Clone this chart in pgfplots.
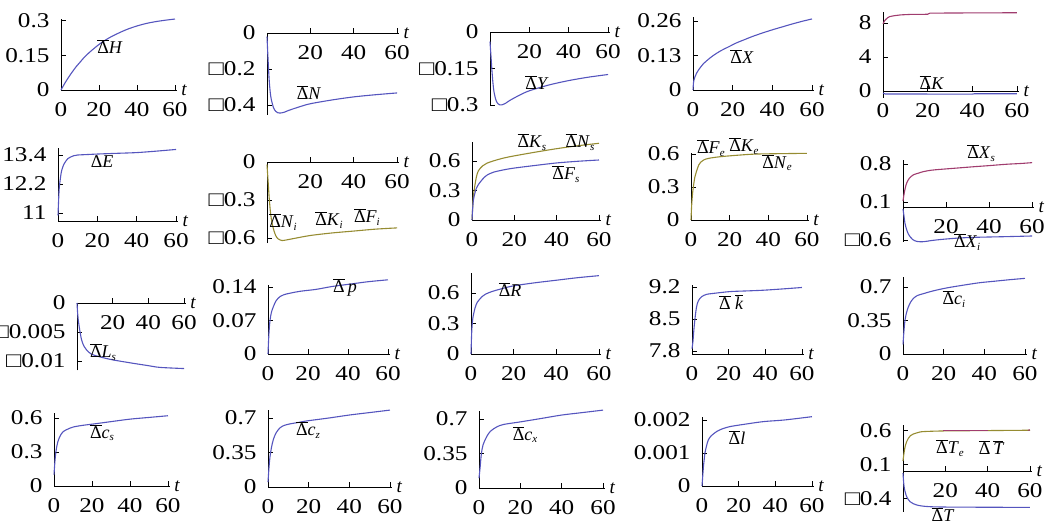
\documentclass[border=0pt]{standalone}
\usepackage{fontspec}
\setmainfont{Liberation Serif}
\newfontfamily\tickfam{Liberation Serif}[FakeStretch=1.2]
\usepackage{pgfplots}
\pgfplotsset{compat=1.18}
\definecolor{cblue}{RGB}{85,85,190}
\definecolor{cmag}{RGB}{160,60,110}
\definecolor{colive}{RGB}{150,140,50}
\newcommand\tickfont{\tickfam\fontsize{21}{22}\selectfont}
\newcommand\tfont{\fontsize{19}{20}\selectfont\itshape}
\newcommand\labfont{\fontsize{18}{19}\selectfont}
\newcommand\sub[1]{\raisebox{-0.3ex}{\fontsize{11}{11}\selectfont\itshape #1}}
\newcommand\bD{$\overline{\mbox{Δ}}$}
\newcommand\ob[1]{$\overline{\mbox{\itshape #1}}$}
\newcommand\mi{□}
\tikzset{lab/.style={font=\labfont, inner sep=0pt}}
\pgfplotsset{
  P/.style={anchor=south west, scale only axis, xmin=0, xmax=61, clip=false,
    hide obscured x ticks=false, hide obscured y ticks=false,
    scaled x ticks=false, scaled y ticks=false, xlabel={t}},
  AX/.style={axis line style={-, line width=0.8pt, black}, x axis line style={-}, y axis line style={-},
    every inner x axis line/.append style={-}, every inner y axis line/.append style={-},
    every outer x axis line/.append style={-}, every outer y axis line/.append style={-},
    tick align=inside, major tick length=5pt, tick style={black, line width=0.6pt},
    tick label style={font=\tickfont},
    x tick label style={yshift=-9pt},
    y tick label style={xshift=-8pt},
    every axis x label/.style={at={(ticklabel* cs:1)}, anchor=west, font=\tfont, xshift=1pt}},
  M/.style={P, axis lines=middle, AX},
  B/.style={P, axis x line=bottom, axis y line=left, AX},
  cb/.style={no marks, smooth, line width=1.1pt, color=cblue},
  cm/.style={no marks, smooth, line width=1.1pt, color=cmag},
  co/.style={no marks, smooth, line width=1.1pt, color=colive},
}
\begin{document}
\begin{tikzpicture}
\path[use as bounding box] (0,0) rectangle (1046pt,522pt);
% ---------- Row 1 ----------
\begin{axis}[M, at={(61pt,432pt)}, width=115.9pt, height=70.5pt, ymin=0, ymax=0.305,
  xtick={0,20,40,60}, xticklabels={0,20,40,60}, ytick={0,0.15,0.3}, yticklabels={0,0.15,0.3}]
\addplot[cb] coordinates {(0,0) (2,0.029) (4,0.055) (6,0.079) (8,0.101) (10,0.12) (12,0.139) (15,0.163) (20,0.197) (25,0.224) (30,0.245) (35,0.263) (40,0.277) (45,0.288) (50,0.296) (55,0.302) (60,0.307)};
\node[lab] at (axis cs:25.8,0.19) {\bD\textit{H}};
\end{axis}
\begin{axis}[M, at={(267pt,407.1pt)}, width=132.2pt, height=81.9pt, ymin=-0.455, ymax=0,
  xtick={20,40,60}, xticklabels={20,40,60}, ytick={0,-0.2,-0.4}, yticklabels={0,\mi0.2,\mi0.4}]
\addplot[cb] coordinates {(0,-0.02) (0.5,-0.15) (1,-0.26) (1.5,-0.33) (2,-0.37) (3,-0.415) (4,-0.435) (5,-0.443) (6,-0.445) (8,-0.44) (10,-0.43) (15,-0.41) (20,-0.393) (30,-0.372) (40,-0.355) (50,-0.343) (60,-0.333)};
\node[lab] at (axis cs:19.4,-0.333) {\bD\textit{N}};
\end{axis}
\begin{axis}[M, at={(490pt,415.9pt)}, width=120pt, height=74.1pt, ymin=-0.305, ymax=0,
  xtick={20,40,60}, xticklabels={20,40,60}, ytick={0,-0.15,-0.3}, yticklabels={0,\mi0.15,\mi0.3}]
\addplot[cb] coordinates {(0,-0.04) (0.5,-0.1) (1,-0.16) (1.5,-0.21) (2,-0.245) (3,-0.28) (4,-0.295) (5,-0.3) (6,-0.3) (8,-0.293) (10,-0.282) (15,-0.26) (20,-0.242) (30,-0.218) (40,-0.2) (50,-0.186) (60,-0.175)};
\node[lab] at (axis cs:23.9,-0.21) {\bD\textit{Y}};
\end{axis}
\begin{axis}[M, at={(693pt,432pt)}, width=121pt, height=72.9pt, ymin=0, ymax=0.275,
  xtick={0,20,40,60}, xticklabels={0,20,40,60}, ytick={0,0.13,0.26}, yticklabels={0,0.13,0.26}]
\addplot[cb] coordinates {(0,0) (0.25,0.028) (0.5,0.038) (1,0.05) (2,0.066) (3,0.078) (5,0.097) (7,0.111) (10,0.129) (14,0.148) (18,0.163) (22,0.178) (26,0.19) (30,0.202) (35,0.215) (40,0.227) (45,0.238) (50,0.249) (55,0.259) (60,0.268)};
\node[lab] at (axis cs:24.7,0.125) {\bD\textit{X}};
\end{axis}
\begin{axis}[M, at={(883pt,424.2pt)}, width=136.2pt, height=85.9pt, ymin=-0.8, ymax=9.3,
  xtick={0,20,40,60}, xticklabels={0,20,40,60}, ytick={0,4,8}, yticklabels={0,4,8}]
\addplot[cm, sharp plot] coordinates {(0,7.9) (0.5,8.15) (1,8.35) (2,8.6) (3,8.75) (5,8.85) (8,8.95) (12,9.0) (20,9.02) (21,9.15) (30,9.17) (60,9.2)};
\addplot[cb, sharp plot] coordinates {(0,-0.25) (1,-0.35) (40,-0.37) (41,-0.32) (60,-0.32)};
\node[lab] at (axis cs:21.9,0.94) {\bD\textit{K}};
\end{axis}
% ---------- Row 2 ----------
\begin{axis}[B, at={(58pt,301pt)}, width=120pt, height=73pt, ymin=10.67, ymax=13.69,
  xtick={0,20,40,60}, xticklabels={0,20,40,60}, ytick={11,12.2,13.4}, yticklabels={11,12.2,13.4}]
\addplot[cb] coordinates {(0,10.9) (0.3,11.5) (0.6,12.0) (1,12.3) (1.5,12.6) (2,12.8) (3,13.02) (4,13.15) (5,13.25) (6,13.3) (8,13.37) (10,13.4) (15,13.42) (20,13.44) (30,13.47) (40,13.5) (50,13.56) (60,13.63)};
\node[lab] at (axis cs:22.4,13.11) {Δ\textit{E}};
\end{axis}
\begin{axis}[M, at={(267pt,278.9pt)}, width=132.2pt, height=81.1pt, ymin=-0.64, ymax=0,
  xtick={20,40,60}, xticklabels={20,40,60}, ytick={0,-0.3,-0.6}, yticklabels={0,\mi0.3,\mi0.6}]
\addplot[co] coordinates {(0,-0.02) (0.5,-0.15) (1,-0.28) (1.5,-0.38) (2,-0.45) (3,-0.53) (4,-0.58) (5,-0.605) (6,-0.615) (7,-0.62) (9,-0.615) (12,-0.605) (20,-0.58) (30,-0.56) (40,-0.545) (50,-0.53) (60,-0.52)};
\node[lab] at (axis cs:7.4,-0.474) {\bD\textit{N}\sub{i}};
\node[lab] at (axis cs:28.6,-0.458) {\bD\textit{K}\sub{i}};
\node[lab] at (axis cs:46.1,-0.434) {\bD\textit{F}\sub{i}};
\end{axis}
\begin{axis}[M, at={(472pt,302pt)}, width=129.1pt, height=77.7pt, ymin=0, ymax=0.79,
  xtick={0,20,40,60}, xticklabels={0,20,40,60}, ytick={0,0.3,0.6}, yticklabels={0,0.3,0.6}]
\addplot[co] coordinates {(0,0) (0.5,0.2) (1,0.3) (2,0.43) (3,0.5) (5,0.55) (7,0.577) (10,0.6) (15,0.63) (20,0.652) (30,0.69) (40,0.725) (50,0.755) (60,0.78)};
\addplot[cb] coordinates {(0,0) (0.5,0.17) (1,0.24) (2,0.32) (3,0.36) (5,0.415) (7,0.455) (10,0.485) (15,0.51) (20,0.528) (30,0.555) (40,0.58) (50,0.597) (60,0.61)};
\node[lab] at (axis cs:28.3,0.79) {\bD\textit{K}\sub{s}};
\node[lab] at (axis cs:51,0.79) {\bD\textit{N}\sub{s}};
\node[lab] at (axis cs:44.4,0.468) {\bD\textit{F}\sub{s}};
\end{axis}
\begin{axis}[M, at={(691pt,302pt)}, width=117.9pt, height=67.1pt, ymin=0, ymax=0.61,
  xtick={0,20,40,60}, xticklabels={0,20,40,60}, ytick={0,0.3,0.6}, yticklabels={0,0.3,0.6}]
\addplot[co] coordinates {(0,0) (0.3,0.12) (0.7,0.22) (1.2,0.3) (2,0.39) (3,0.45) (4,0.5) (5,0.525) (6.5,0.545) (9,0.56) (15,0.575) (25,0.59) (35,0.6) (60,0.606)};
\node[lab] at (axis cs:10.3,0.655) {\bD\textit{F}\sub{e}};
\node[lab] at (axis cs:27.4,0.67) {\bD\textit{K}\sub{e}};
\node[lab] at (axis cs:44.5,0.52) {\bD\textit{N}\sub{e}};
\end{axis}
\begin{axis}[M, at={(903pt,280.3pt)}, width=131.2pt, height=81.5pt, ymin=-0.63, ymax=0.87,
  xtick={20,40,60}, xticklabels={20,40,60}, ytick={-0.6,0.1,0.8}, yticklabels={\mi0.6,0.1,0.8}]
\addplot[cm] coordinates {(0,0.12) (0.5,0.25) (1,0.35) (1.7,0.45) (3,0.54) (4.8,0.6) (7,0.63) (9.5,0.66) (13,0.685) (17,0.7) (25,0.725) (33,0.75) (40,0.77) (48,0.795) (55,0.81) (60,0.825)};
\addplot[cb] coordinates {(0,-0.03) (0.5,-0.17) (0.9,-0.29) (1.7,-0.41) (2.5,-0.49) (3.3,-0.54) (4.5,-0.59) (6.4,-0.625) (9.5,-0.63) (13,-0.61) (17.4,-0.59) (25,-0.565) (33,-0.55) (48,-0.537) (60,-0.525)};
\node[lab] at (axis cs:36.3,1.0) {\bD\textit{X}\sub{s}};
\node[lab] at (axis cs:29.8,-0.635) {\bD\textit{X}\sub{i}};
\end{axis}
% ---------- Row 3 ----------
\begin{axis}[M, at={(77pt,151.7pt)}, width=108.8pt, height=67.3pt, ymin=-0.0116, ymax=0,
  xtick={20,40,60}, xticklabels={20,40,60}, ytick={0,-0.005,-0.01}, yticklabels={0,\mi0.005,\mi0.01}]
\addplot[cb] coordinates {(0,0) (0.3,-0.0015) (0.7,-0.0029) (1.5,-0.0046) (2.6,-0.0064) (4,-0.0075) (5.4,-0.0081) (8,-0.0088) (13,-0.0093) (20,-0.0098) (31.6,-0.0104) (40,-0.0108) (46.5,-0.0111) (60,-0.0113)};
\node[lab] at (axis cs:14.6,-0.00845) {\bD\textit{L}\sub{s}};
\end{axis}
\begin{axis}[M, at={(268pt,168pt)}, width=122pt, height=69.4pt, ymin=0, ymax=0.145,
  xtick={0,20,40,60}, xticklabels={0,20,40,60}, ytick={0,0.07,0.14}, yticklabels={0,0.07,0.14}]
\addplot[cb] coordinates {(0,0) (0.2,0.02) (0.5,0.045) (1,0.07) (1.7,0.087) (2.7,0.099) (4,0.111) (6,0.12) (8,0.124) (11,0.127) (16,0.131) (24,0.135) (32,0.141) (41,0.146) (50,0.151) (60,0.155)};
\node[lab] at (axis cs:38.5,0.14) {\bD\,\textit{p}};
\end{axis}
\begin{axis}[M, at={(471pt,168pt)}, width=130.1pt, height=81.4pt, ymin=0, ymax=0.8,
  xtick={0,20,40,60}, xticklabels={0,20,40,60}, ytick={0,0.3,0.6}, yticklabels={0,0.3,0.6}]
\addplot[cb] coordinates {(0,0) (0.3,0.2) (0.6,0.3) (1,0.37) (2,0.46) (3,0.51) (5,0.56) (7,0.59) (10,0.615) (15,0.645) (20,0.67) (30,0.7) (40,0.725) (50,0.75) (60,0.77)};
\node[lab] at (axis cs:18.3,0.63) {\bD\textit{R}};
\end{axis}
\begin{axis}[B, at={(692pt,168pt)}, width=111.8pt, height=68.8pt, ymin=7.734, ymax=9.24,
  xtick={0,20,40,60}, xticklabels={0,20,40,60}, ytick={7.8,8.5,9.2}, yticklabels={7.8,8.5,9.2}]
\addplot[cb] coordinates {(0,7.85) (0.5,8.0) (1,8.25) (1.6,8.5) (2.5,8.77) (3.5,8.9) (5.3,8.99) (8,9.04) (11.6,9.06) (20.7,9.1) (30,9.115) (38.9,9.13) (50,9.16) (60,9.19)};
\node[lab] at (axis cs:21.3,8.87) {\bD\ \ob{k}};
\end{axis}
\begin{axis}[M, at={(903pt,168pt)}, width=124pt, height=76.6pt, ymin=0, ymax=0.8,
  xtick={0,20,40,60}, xticklabels={0,20,40,60}, ytick={0,0.35,0.7}, yticklabels={0,0.35,0.7}]
\addplot[cb] coordinates {(0,0.1) (0.5,0.25) (1,0.355) (1.7,0.43) (2.6,0.49) (3.7,0.54) (5.1,0.58) (7,0.61) (10,0.63) (15,0.66) (21.5,0.69) (30,0.72) (37.9,0.745) (45,0.76) (52,0.775) (60,0.79)};
\node[lab] at (axis cs:25,0.575) {\bD\textit{c}\sub{i}};
\end{axis}
% ---------- Row 4 ----------
\begin{axis}[M, at={(54pt,36pt)}, width=115.9pt, height=73.1pt, ymin=0, ymax=0.645,
  xtick={0,20,40,60}, xticklabels={0,20,40,60}, ytick={0,0.3,0.6}, yticklabels={0,0.3,0.6}]
\addplot[cb] coordinates {(0,0.1) (0.5,0.22) (1,0.3) (1.6,0.36) (2.3,0.405) (3.5,0.45) (4.9,0.48) (7,0.5) (10,0.52) (15,0.535) (20.7,0.547) (30,0.568) (40,0.59) (50,0.605) (60,0.62)};
\node[lab] at (axis cs:25.3,0.47) {\bD\textit{c}\sub{s}};
\end{axis}
\begin{axis}[M, at={(268pt,35pt)}, width=124pt, height=76.9pt, ymin=0, ymax=0.78,
  xtick={0,20,40,60}, xticklabels={0,20,40,60}, ytick={0,0.35,0.7}, yticklabels={0,0.35,0.7}]
\addplot[cb] coordinates {(0,0.05) (0.5,0.2) (1,0.31) (1.7,0.4) (2.6,0.48) (4,0.55) (5.9,0.6) (8,0.625) (10.8,0.64) (15,0.655) (19,0.67) (30,0.7) (40,0.73) (50,0.755) (60,0.78)};
\node[lab] at (axis cs:19.7,0.578) {\bD\textit{c}\sub{z}};
\end{axis}
\begin{axis}[M, at={(479pt,34pt)}, width=126.1pt, height=76.9pt, ymin=0, ymax=0.78,
  xtick={0,20,40,60}, xticklabels={0,20,40,60}, ytick={0,0.35,0.7}, yticklabels={0,0.35,0.7}]
\addplot[cb] coordinates {(0,0.1) (0.5,0.2) (1,0.32) (1.3,0.37) (2,0.44) (3.7,0.52) (5.5,0.575) (8.6,0.62) (12,0.645) (19.8,0.67) (30,0.705) (40,0.74) (50,0.765) (60,0.79)};
\node[lab] at (axis cs:22.3,0.54) {\bD\textit{c}\sub{x}};
\end{axis}
\begin{axis}[M, at={(702pt,36pt)}, width=111.8pt, height=69pt, ymin=0, ymax=0.00209,
  xtick={0,20,40,60}, xticklabels={0,20,40,60}, ytick={0,0.001,0.002}, yticklabels={0,0.001,0.002}]
\addplot[cb] coordinates {(0,0) (0.4,0.0003) (0.8,0.0006) (1.2,0.0008) (1.6,0.001) (2.4,0.0012) (3.4,0.00139) (5,0.00152) (8,0.00165) (11,0.00173) (15.3,0.0018) (22,0.00186) (33.5,0.00195) (45,0.002) (60,0.0021)};
\node[lab] at (axis cs:19.1,0.00148) {\bD\textit{l}};
\end{axis}
\begin{axis}[M, at={(903pt,10.2pt)}, width=129.1pt, height=87pt, ymin=-0.6, ymax=0.68,
  xtick={20,40,60}, xticklabels={20,40,60}, ytick={-0.4,0.1,0.6}, yticklabels={\mi0.4,0.1,0.6}]
\addplot[co] coordinates {(0,0.15) (0.5,0.27) (1,0.36) (1.7,0.43) (2.5,0.48) (3.5,0.52) (4.9,0.545) (7,0.565) (9.6,0.58) (20,0.59) (40,0.595) (60,0.6)};
\addplot[cm, sharp plot] coordinates {(19,0.6) (40,0.6)};
\addplot[cm, sharp plot] coordinates {(59,0.6) (60,0.605)};
\addplot[cb] coordinates {(0,-0.03) (0.5,-0.23) (1.4,-0.35) (2.3,-0.41) (3.3,-0.45) (4.8,-0.48) (6.5,-0.5) (9,-0.515) (12.8,-0.525) (20,-0.53) (40,-0.533) (60,-0.535)};
\node[lab] at (axis cs:22.2,0.34) {\bD\textit{T}\sub{e}};
\node[lab] at (axis cs:41.6,0.34) {\bD\,\ob{T}};
\node[lab] at (axis cs:18.9,-0.645) {\bD\textit{T}};
\end{axis}
\end{tikzpicture}
\end{document}
